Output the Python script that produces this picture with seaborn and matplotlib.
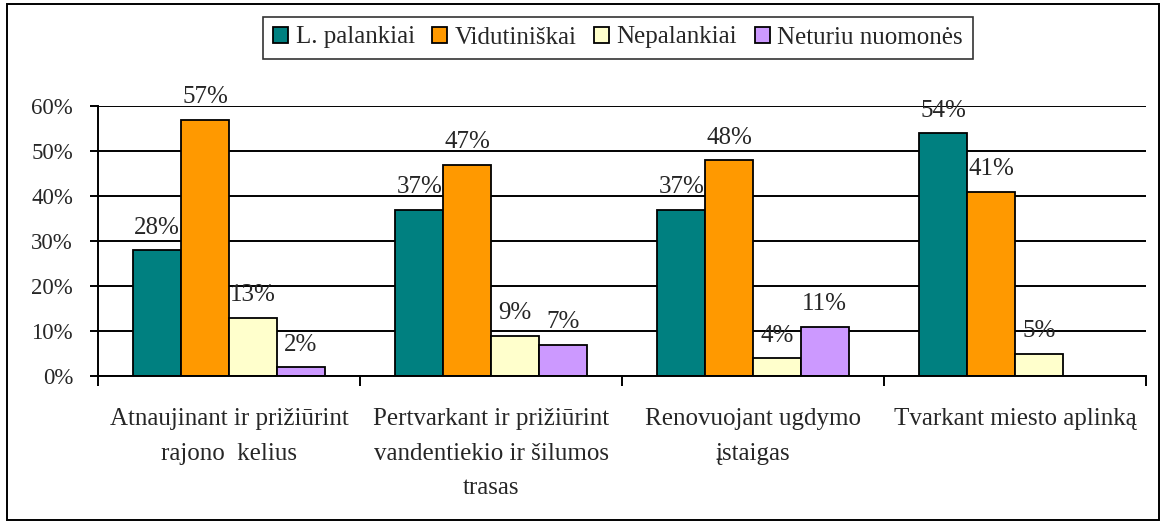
import matplotlib
matplotlib.use("Agg")
import pandas as pd
import numpy as np
import matplotlib.pyplot as plt
import seaborn as sns
from matplotlib.patches import Rectangle
from matplotlib.ticker import FixedLocator, FuncFormatter

# Data (percent)
categories = [
    "Atnaujinant ir prižiūrint\nrajono  kelius",
    "Pertvarkant ir prižiūrint\nvandentiekio ir šilumos\ntrasas",
    "Renovuojant ugdymo\nįstaigas",
    "Tvarkant miesto aplinką",
]
series = ["L. palankiai", "Vidutiniškai", "Nepalankiai", "Neturiu nuomonės"]
palankiai = [28, 37, 37, 54]
vidutiniskai = [57, 47, 48, 41]
nepalankiai = [13, 9, 4, 5]
neturiu = [2, 7, 11, np.nan]
colors = ["#008080", "#FF9900", "#FFFFCC", "#CC99FF"]

rows = []
for name, vals in zip(series, [palankiai, vidutiniskai, nepalankiai, neturiu]):
    for cat, v in zip(categories, vals):
        rows.append({"category": cat, "series": name, "value": v})
df = pd.DataFrame(rows)

sns.set_style("white")
plt.rcParams["font.family"] = ["Liberation Serif", "DejaVu Serif"]

fig = plt.figure(figsize=(11.65, 5.24), dpi=100)
ax = fig.add_axes([98 / 1165, 1 - 376 / 524, 1048 / 1165, 270 / 524])

sns.barplot(data=df, x="category", y="value", hue="series", order=categories,
            hue_order=series, palette=colors, width=0.73, edgecolor="black",
            linewidth=1.3, saturation=1, ax=ax, legend=True, errorbar=None)

ax.set_ylim(0, 60)
ax.set_xlim(-0.5, 3.5)
ax.set_yticks(np.arange(0, 61, 10))
ax.yaxis.set_major_formatter(FuncFormatter(lambda v, p: f"{int(v)}%"))
ax.grid(axis="y", color="black", linewidth=1.4)
ax.set_axisbelow(True)
for s in ["top", "right"]:
    ax.spines[s].set_visible(False)
for s in ["left", "bottom"]:
    ax.spines[s].set_color("black")
    ax.spines[s].set_linewidth(1.4)
ax.tick_params(axis="y", which="major", direction="out", length=6, width=1.4,
               color="black", labelsize=16.5, left=True, pad=12)
ax.tick_params(axis="x", which="major", length=0, labelsize=18, pad=23)
ax.xaxis.set_minor_locator(FixedLocator([-0.5, 0.5, 1.5, 2.5, 3.5]))
ax.tick_params(axis="x", which="minor", direction="out", length=7, width=1.4,
               color="black", bottom=True)
for lbl in ax.get_xticklabels():
    lbl.set_linespacing(1.75)
    lbl.set_verticalalignment("top")
ax.set_xlabel("")
ax.set_ylabel("")

for cont in ax.containers:
    labels = ["" if np.isnan(v) else f"{int(v)}%" for v in cont.datavalues]
    ax.bar_label(cont, labels=labels, padding=8, fontsize=18, clip_on=False)

ax.legend_.remove()
leg = fig.legend(*ax.get_legend_handles_labels(), loc="center",
                 bbox_to_anchor=(618 / 1165, 1 - 37.5 / 524), ncol=4, fontsize=18,
                 frameon=True, fancybox=False, edgecolor="black",
                 handlelength=0.6, handleheight=0.6, handletextpad=0.3,
                 columnspacing=0.7, borderpad=0.4)
leg.get_frame().set_linewidth(1.2)

fig.patches.append(Rectangle((7 / 1165, 4 / 524), 1152 / 1165, 516 / 524,
                             transform=fig.transFigure, fill=False,
                             edgecolor="black", linewidth=1.4))

fig.savefig("out.png", dpi=100)
